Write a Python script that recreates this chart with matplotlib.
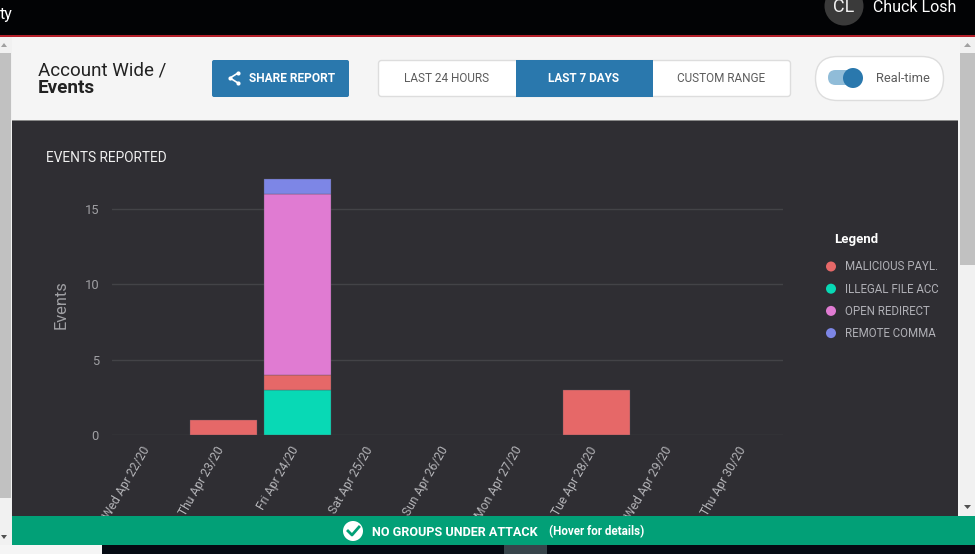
import matplotlib
matplotlib.use("Agg")
import matplotlib.pyplot as plt
import matplotlib.patches as patches
import matplotlib.transforms as mtrans
import numpy as np

plt.rcParams['font.family'] = ['Roboto', 'DejaVu Sans']

W, H = 977, 554

days = ["Wed Apr 22/20", "Thu Apr 23/20", "Fri Apr 24/20", "Sat Apr 25/20", "Sun Apr 26/20",
        "Mon Apr 27/20", "Tue Apr 28/20", "Wed Apr 29/20", "Thu Apr 30/20"]
# stack order, bottom to top
illegal_file = [0, 0, 3, 0, 0, 0, 0, 0, 0]
malicious = [0, 1, 1, 0, 0, 0, 3, 0, 0]
open_redirect = [0, 0, 12, 0, 0, 0, 0, 0, 0]
remote_command = [0, 0, 1, 0, 0, 0, 0, 0, 0]
yticks = [0, 5, 10, 15]

legend_names = ["MALICIOUS PAYL.", "ILLEGAL FILE ACC", "OPEN REDIRECT", "REMOTE COMMA"]
RED, TEAL, PINK, BLUE = "#e66868", "#08d9b5", "#e07bd2", "#7d86e6"
legend_colors = [RED, TEAL, PINK, BLUE]

DARK = "#2f2e33"
ACCENT = "#2a78ad"
GREEN = "#02a077"
SOFT = "#a0a0a4"

fig = plt.figure(figsize=(W / 100, H / 100), dpi=100, facecolor="#f5f5f5")

# page chrome, drawn in pixel coords
bg = fig.add_axes([0, 0, 1, 1], zorder=0)
bg.set_xlim(0, W)
bg.set_ylim(H, 0)
bg.axis("off")

def rect(ax, x0, y0, x1, y1, color, **kw):
    ax.add_patch(patches.Rectangle((x0, y0), x1 - x0, y1 - y0, fc=color, ec="none", **kw))

def rbox(ax, x0, y0, x1, y1, r, fc, ec="none", lw=1, **kw):
    ax.add_patch(patches.FancyBboxPatch((x0 + r, y0 + r), x1 - x0 - 2 * r, y1 - y0 - 2 * r,
                                        boxstyle="round,pad=%f,rounding_size=%f" % (r, r),
                                        fc=fc, ec=ec, lw=lw, **kw))

rect(bg, 0, 0, W, 35, "#020305")
rect(bg, 0, 35, W, 37, "#b5202a")
rect(bg, 12, 120, 958, 121, "#8a8a8a")
rect(bg, 12, 121, 958, 516, DARK)

# scrollbars
rect(bg, 0, 37, 12, 545, "#f1f1f1")
rect(bg, 0, 53, 11, 498, "#c1c1c1")
rect(bg, 960, 37, 975, 516, "#f1f1f1")
rect(bg, 960, 53, 975, 265, "#c1c1c1")
rect(bg, 975, 0, W, H, "#ffffff")
bg.add_patch(patches.Polygon([[1, 47], [7, 47], [4, 43]], fc="#a0a0a0", ec="none"))
bg.add_patch(patches.Polygon([[964, 47], [971, 47], [967.5, 43]], fc="#a0a0a0", ec="none"))
bg.add_patch(patches.Polygon([[964, 505], [971, 505], [967.5, 509]], fc="#505050", ec="none"))
bg.add_patch(patches.Polygon([[1, 535], [7, 535], [4, 539]], fc="#505050", ec="none"))

# top bar
bg.text(-0.5, 15, "ty", color="white", fontsize=11.5, va="center", ha="left")
bg.add_patch(patches.Circle((844, 6), 19.5, fc="#3a3a3a", ec="none"))
bg.text(844, 7.5, "CL", color="#f0f0f0", fontsize=13, va="center", ha="center")
bg.text(873, 7.5, "Chuck Losh", color="white", fontsize=11.5, va="center", ha="left")

# header
bg.text(38, 70.5, "Account Wide /", color="#222222", fontsize=13.5, va="center")
bg.text(38, 88, "Events", color="#222222", fontsize=13.6, va="center", fontweight="bold")

rbox(bg, 212, 60, 349, 97, 2, ACCENT)
sx = np.array([238, 230, 238])
sy = np.array([73, 78, 83])
bg.plot(sx, sy, color="white", lw=1.2)
bg.scatter(sx, sy, s=9, color="white", zorder=3, linewidths=0)
bg.text(249, 78, "SHARE REPORT", color="white", fontsize=8.6, va="center", fontweight="bold")

rbox(bg, 378.5, 60.5, 790.5, 96.5, 3, "white", ec="#dddddd")
rect(bg, 516, 60, 653, 97, ACCENT)
bg.text(447, 78.5, "LAST 24 HOURS", color="#5c5c5c", fontsize=8.5, va="center", ha="center")
bg.text(584, 78.5, "LAST 7 DAYS", color="white", fontsize=8.5, va="center", ha="center", fontweight="bold")
bg.text(721.5, 78, "CUSTOM RANGE", color="#5c5c5c", fontsize=8.5, va="center", ha="center")

rbox(bg, 815.5, 56.5, 943.5, 100.5, 22, "white", ec="#dddddd")
rbox(bg, 828, 70, 860, 85, 7.5, "#90bcd8")
bg.add_patch(patches.Circle((853, 78), 10, fc=ACCENT, ec="none", zorder=3))
bg.text(876, 78.5, "Real-time", color="#5c5c5c", fontsize=9.3, va="center")

# chart heading and legend
bg.text(46, 158, "EVENTS REPORTED", color="#f0f0f0", fontsize=9.85, va="center")
bg.text(834.5, 239.5, "Legend", color="white", fontsize=9.5, va="center", fontweight="bold")
for i, (name, c) in enumerate(zip(legend_names, legend_colors)):
    yy = 266.5 + i * 22.2
    bg.add_patch(patches.Circle((831, yy), 5, fc=c, ec="none"))
    bg.text(845, yy + 0.5, name, color="#b0b0b6", fontsize=8.3, va="center")

# the chart itself
PX_PER_UNIT = 15.07
top_val = 17.6
ax_l, ax_r, ax_b = 111.5, 782.5, 435
ax = fig.add_axes([ax_l / W, 1 - ax_b / H, (ax_r - ax_l) / W, top_val * PX_PER_UNIT / H], zorder=1)
ax.patch.set_alpha(0)
x = np.arange(len(days))
bottom = np.zeros(len(days))
for vals, c in [(illegal_file, TEAL), (malicious, RED), (open_redirect, PINK), (remote_command, BLUE)]:
    vals = np.array(vals)
    keep = vals > 0  # empty days get no bar, otherwise the edge shows on the baseline
    ax.bar(x[keep], vals[keep], width=0.9, bottom=bottom[keep], color=c, edgecolor="#55555f",
           linewidth=0.25, zorder=3)
    bottom += vals
ax.set_xlim(-0.5, len(days) - 0.5)
ax.set_ylim(0, top_val)
ax.set_yticks(yticks)
ax.set_xticks(x)
ax.set_xticklabels(days, rotation=60, ha="right", va="center", rotation_mode="anchor",
                   fontsize=8.7, color="#b4b4b8")
ax.tick_params(axis="x", length=0, pad=9)
ax.tick_params(axis="y", length=0, pad=9, labelsize=9.3, labelcolor=SOFT)
# labels sit 2px left of the band centre, has to come after tick_params
shift = mtrans.ScaledTranslation(-2 / 100, 0, fig.dpi_scale_trans)
for lab in ax.get_xticklabels():
    lab.set_transform(lab.get_transform() + shift)
ax.grid(axis="y", color="#434347", lw=1, zorder=0)
ax.set_axisbelow(True)
for s in ax.spines.values():
    s.set_visible(False)
ax.set_ylabel("Events", color=SOFT, fontsize=11.8, labelpad=11, y=0.49)

# banner over the bottom of the tick labels
fg = fig.add_axes([0, 0, 1, 1], zorder=2)
fg.set_xlim(0, W)
fg.set_ylim(H, 0)
fg.axis("off")
rect(fg, 12, 516, 975, 545, GREEN)
rect(fg, 0, 545, 102, H, "#f5f5f5")
rect(fg, 102, 545, 975, H, "#050a12")
rect(fg, 504, 545, 547, H, "#37444a")
fg.add_patch(patches.Circle((353, 531), 10, fc="white", ec="none"))
fg.plot([348, 352, 359], [531, 535, 527], color=GREEN, lw=2)
fg.text(372, 532, "NO GROUPS UNDER ATTACK", color="white", fontsize=9.1, va="center", fontweight="bold")
fg.text(549, 531.5, "(Hover for details)", color="white", fontsize=8.4, va="center", fontweight="bold")

fig.savefig("out.png", dpi=100, facecolor=fig.get_facecolor())
